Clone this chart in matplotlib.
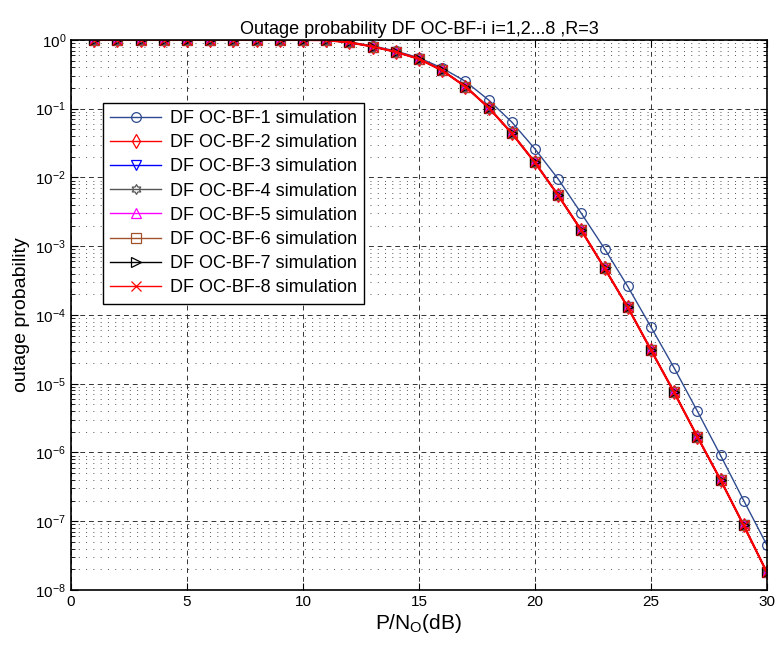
import matplotlib
matplotlib.use("Agg")
import numpy as np
import matplotlib.pyplot as plt
from matplotlib.path import Path
from matplotlib.ticker import LogLocator, MultipleLocator, NullFormatter

plt.rcParams["font.family"] = ["Liberation Sans", "DejaVu Sans"]
plt.rcParams["mathtext.fontset"] = "custom"
plt.rcParams["mathtext.rm"] = "Liberation Sans"
plt.rcParams["mathtext.it"] = "Liberation Sans:italic"

# P/N0 in dB
snr_db = list(range(1, 31))

# OC-BF-1 sits slightly to the right of the others
outage_bf1 = [1.0, 1.0, 1.0, 1.0, 1.0, 1.0, 1.0, 1.0, 1.0, 1.0,
              0.99, 0.93, 0.82, 0.69, 0.55, 0.39, 0.25, 0.134, 0.064, 0.026,
              9.5e-3, 3.0e-3, 9.2e-4, 2.6e-4, 6.7e-5, 1.7e-5, 4.0e-6, 9.1e-7, 2.0e-7, 4.5e-8]

# OC-BF-2 .. OC-BF-8 all land on practically the same curve
outage_bf_rest = [1.0, 1.0, 1.0, 1.0, 1.0, 1.0, 1.0, 1.0, 1.0, 1.0,
                  0.99, 0.92, 0.80, 0.67, 0.53, 0.36, 0.21, 0.104, 0.044, 0.0165,
                  5.5e-3, 1.7e-3, 4.8e-4, 1.3e-4, 3.1e-5, 7.5e-6, 1.7e-6, 4.0e-7, 8.7e-8, 1.8e-8]

series_labels = [f"DF OC-BF-{i} simulation" for i in range(1, 9)]
series_values = [outage_bf1] + [outage_bf_rest] * 7


def hexagram():
    # MATLAB's 'h' marker: six-pointed star
    ang = np.pi / 2 + np.arange(12) * np.pi / 6
    rad = np.where(np.arange(12) % 2 == 0, 1.0, 0.58)
    verts = np.column_stack([rad * np.cos(ang), rad * np.sin(ang)])
    verts = np.vstack([verts, verts[:1]])
    codes = [Path.MOVETO] + [Path.LINETO] * 11 + [Path.CLOSEPOLY]
    return Path(verts, codes)


# (color, marker, line width) per series, MATLAB-like
STYLES = [
    ("#2e4a8f", "o", 1.0),
    ("#ff0000", "d", 1.0),
    ("#0000ff", "v", 1.0),
    ("#555555", hexagram(), 1.0),
    ("#ff00ff", "^", 1.0),
    ("#a0522d", "s", 1.0),
    ("#000000", ">", 1.0),
    ("#ff0000", "x", 1.6),
]

fig = plt.figure(figsize=(7.77, 6.46), dpi=100, facecolor="white")
ax = fig.add_axes([0.0914, 0.0867, 0.8956, 0.8515])

for label, values, (color, marker, lw) in zip(series_labels, series_values, STYLES):
    ax.semilogy(snr_db, values, color=color, marker=marker, markersize=7,
                markerfacecolor="none", markeredgecolor=color, markeredgewidth=0.9,
                linewidth=lw, label=label)

ax.set_xlim(0, 30)
ax.set_ylim(1e-8, 1)
ax.xaxis.set_major_locator(MultipleLocator(5))
# minor grid also runs through the decades, like MATLAB's "grid minor"
ax.yaxis.set_minor_locator(LogLocator(base=10, subs=range(1, 10), numticks=20))
ax.yaxis.set_minor_formatter(NullFormatter())
ax.set_yticks([10.0 ** k for k in range(-8, 1)])
ax.set_yticklabels([f"$10^{{{k}}}$" for k in range(-8, 1)])

ax.tick_params(which="both", direction="in", top=True, right=True, labelsize=11, colors="black")
ax.tick_params(which="major", length=5)
ax.tick_params(which="minor", length=3)

ax.grid(True, which="major", linestyle=(0, (5, 4)), color="#333333", linewidth=0.7)
ax.grid(True, which="minor", axis="y", linestyle=(0, (1, 6.5)), color="#555555", linewidth=0.7)
for spine in ax.spines.values():
    spine.set_linewidth(1.2)
    spine.set_color("black")

ax.set_title("Outage probability DF OC-BF-i i=1,2...8 ,R=3", fontsize=13, pad=4)
ax.set_xlabel("P/N$_\\mathrm{O}$(dB)", fontsize=15, labelpad=2)
ax.set_ylabel("outage probability", fontsize=14, labelpad=4)

legend = ax.legend(loc="upper left", bbox_to_anchor=(0.046, 0.886), borderaxespad=0,
                   fontsize=13, frameon=True, fancybox=False, handlelength=2.8,
                   labelspacing=0.4, borderpad=0.4, handletextpad=0.5)
legend.get_frame().set_edgecolor("black")
legend.get_frame().set_linewidth(1.0)
legend.get_frame().set_alpha(1.0)
# legend samples are all drawn thin, as in the original
for handle in legend.get_lines():
    handle.set_linewidth(1.0)

fig.savefig("out.png", dpi=100)
